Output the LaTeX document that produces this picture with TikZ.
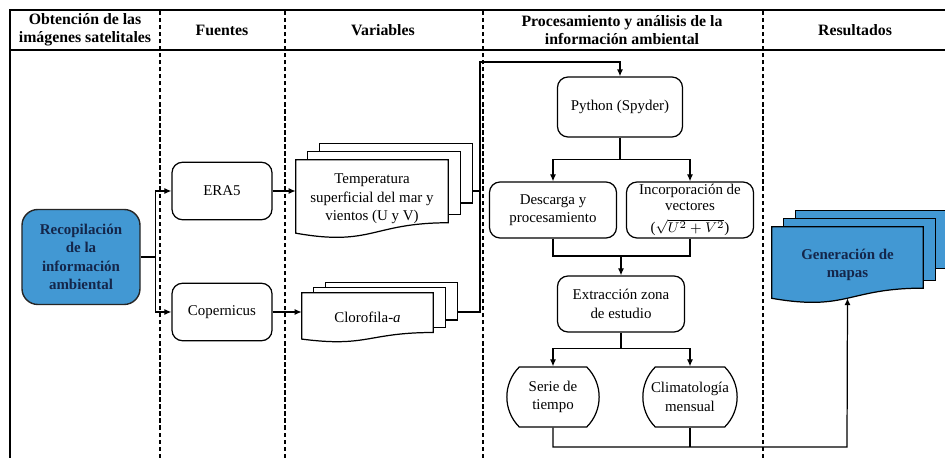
\documentclass[tikz,border=0pt]{standalone}
\usepackage{fontspec}
\setmainfont{Liberation Serif}
\usetikzlibrary{arrows.meta, positioning, calc, backgrounds, shapes.misc}
\definecolor{mapblue}{HTML}{4298D3}
\definecolor{navy}{HTML}{14264A}

% stack of three sheets behind node #1: fill #2, vertical shift #3
\newcommand{\multidoc}[3]{%
  \begin{pgfonlayer}{background}
    \draw[docline, fill=#2] ($(#1.north west)+(0.48,2*#3)$) rectangle
      ($(#1.north east)!0.55!(#1.south east)+(0.48,0)$);
    \draw[docline, fill=#2] ($(#1.north west)+(0.24,#3)$) rectangle
      ($(#1.north east)!0.7!(#1.south east)+(0.24,0)$);
    \draw[docline, fill=#2] (#1.north west) -- (#1.north east)
      -- ($(#1.north east)!0.802!(#1.south east)$)
      .. controls ($(#1.north)!0.802!(#1.south)$) and ($(#1.north)!1.107!(#1.south)$)
      .. ($(#1.north west)!0.934!(#1.south west)$) -- cycle;
  \end{pgfonlayer}
  \coordinate (#1-b) at ($(#1.north east)+(0.48,0)$);
  \coordinate (#1-w) at ($(#1.north)!0.933!(#1.south)$);}

\begin{document}
\begin{tikzpicture}[
  font=\fontsize{8.5}{10.5}\selectfont,
  hdr/.style={align=center, font=\fontsize{9}{10.5}\selectfont\bfseries},
  box/.style={draw, line width=0.7pt, rounded corners=6pt,
    minimum width=2.0cm, minimum height=1.15cm, align=center, inner sep=2pt},
  endbox/.style={draw, line width=0.7pt, rounded rectangle,
    rounded rectangle arc length=90, minimum width=2.08cm,
    minimum height=1.2cm, align=center},
  mainbox/.style={draw=black!85, line width=0.8pt, fill=mapblue,
    rounded corners=9pt, minimum width=2.36cm, minimum height=1.9cm,
    align=center, text=navy, font=\fontsize{8.5}{10.5}\selectfont\bfseries},
  doc/.style={align=center, inner sep=1pt},
  docline/.style={draw, line width=0.7pt},
  sep/.style={dash pattern=on 2.5pt off 1.5pt, line width=0.6pt},
  rule/.style={line width=1.1pt},
  line/.style={line width=0.7pt},
  arr/.style={line, -{Latex[length=4pt,width=3.5pt]}},
]
\useasboundingbox (0,0) rectangle (18.9,9.16);
% table frame
\begin{scope}[on background layer]
  \draw[rule] (0.2,0) -- (0.2,8.96) -- (18.9,8.96);
  \draw[rule] (0.2,8.16) -- (18.9,8.16);
  \foreach \x in {3.2, 5.7, 9.66, 15.26}
    \draw[sep] (\x,0) -- (\x,8.96);
\end{scope}
% column titles
\node[hdr] (h1) at (1.7, 8.56) {Obtención de las\\imágenes satelitales};
\node[hdr] (h2) at (4.44, 8.56) {Fuentes};
\node[hdr] (h3) at (7.66, 8.56) {Variables};
\node[hdr] (h4) at (12.44, 8.56) {Procesamiento y análisis de la\\información ambiental};
\node[hdr] (h5) at (17.1, 8.56) {Resultados};
% sources
\node[mainbox] (rec) at (1.62, 4.02) {Recopilación\\de la\\información\\ambiental};
\node[box] (era) at (4.44, 5.34) {ERA5};
\node[box] (cop) at (4.44, 2.92) {Copernicus};
\draw[line] (rec.east) -- ++(0.3,0) coordinate (s0);
\draw[arr] (s0) |- (era.west);
\draw[arr] (s0) |- (cop.west);
% variables
\node[doc, minimum width=3.04cm, minimum height=1.56cm] (tmp) at (7.44, 5.18)
  {Temperatura\\superficial del mar y\\vientos (U y V)};
\multidoc{tmp}{white}{0.16}
\node[doc, minimum width=2.62cm, minimum height=0.98cm] (clo) at (7.35, 2.81)
  {Clorofila-\textit{a}};
\multidoc{clo}{white}{0.1}
\draw[arr] (era.east) -- (era.east -| tmp.west);
\draw[arr] (cop.east) -- (cop.east -| clo.west);
% processing
\node[box, minimum width=2.5cm, minimum height=1.2cm] (py) at (12.4, 7.02) {Python (Spyder)};
\node[box, minimum width=2.54cm, minimum height=1.12cm] (des) at (11.06, 4.96) {Descarga y\\procesamiento};
\node[box, minimum width=2.54cm, minimum height=1.12cm, inner sep=0.5pt,
  font=\fontsize{8.5}{9}\selectfont] (inc) at (13.8, 4.96)
  {Incorporación de\\vectores\\[3.5pt]($\sqrt{U^2+V^2}$)};
\node[box, minimum width=2.54cm, minimum height=1.12cm] (ext) at (12.42, 3.08) {Extracción zona\\de estudio};
\node[endbox] (ser) at (11.06, 1.22) {Serie de\\tiempo};
\node[endbox, minimum width=2.12cm] (cli) at (13.8, 1.22) {Climatología\\mensual};
\coordinate (jn) at (9.6, 7.92);
\draw[line, line width=1.1pt] (era.east -| tmp-b) -- (era.east -| jn);
\draw[arr, line width=1.1pt] (cop.east -| clo-b) -| (jn) -| (py.north);
\draw[line] (py.south) -- ++(0,-0.44) coordinate (s1);
\draw[arr] (s1) -| (des.north);
\draw[arr] (s1) -| (inc.north);
\coordinate (j2) at (12.42, 4.04);
\draw[line] (des.south) |- (j2) -| (inc.south);
\draw[arr] (j2) -- (ext.north);
\draw[line] (ext.south) -- ++(0,-0.32) coordinate (s2);
\draw[arr] (s2) -| (ser.north);
\draw[arr] (s2) -| (cli.north);
% results
\node[doc, minimum width=3.02cm, minimum height=1.52cm, text=navy,
  font=\fontsize{8.5}{10.5}\selectfont\bfseries] (gen) at (16.95, 3.86)
  {Generación de\\mapas};
\multidoc{gen}{mapblue}{0.16}
\coordinate (j3) at (16.94, 0.22);
\draw[arr] (ser.south) |- (j3) -- (gen-w);
\draw[line] (cli.south) -- (cli.south |- j3);
\end{tikzpicture}
\end{document}
